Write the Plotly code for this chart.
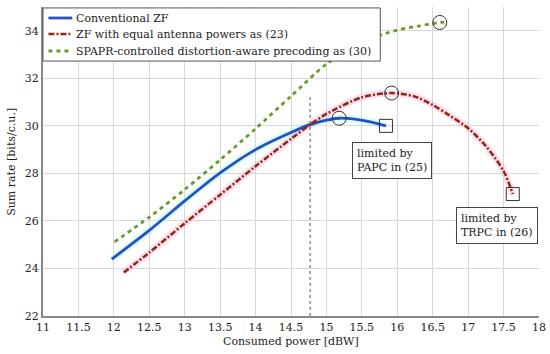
import plotly.graph_objects as go

# Data
zf_x = [11.97, 12.5, 13.0, 13.5, 14.0, 14.5, 14.77, 15.0, 15.18, 15.4, 15.6, 15.84]
zf_y = [24.39, 25.6, 26.84, 28.02, 29.0, 29.72, 30.05, 30.24, 30.32, 30.28, 30.18, 30.0]

eq_x = [12.14, 12.5, 13.0, 13.5, 14.0, 14.5, 14.77, 15.0, 15.5, 15.92, 16.23, 16.5, 16.73, 17.0, 17.25, 17.5, 17.63]
eq_y = [23.83, 24.67, 25.9, 27.1, 28.3, 29.45, 30.05, 30.5, 31.2, 31.38, 31.25, 30.88, 30.45, 29.9, 29.15, 28.1, 27.13]

sp_x = [12.01, 12.5, 13.0, 13.5, 14.0, 14.5, 15.0, 15.5, 16.0, 16.3, 16.5, 16.6, 16.72]
sp_y = [25.12, 26.16, 27.32, 28.57, 29.88, 31.25, 32.6, 33.52, 34.03, 34.2, 34.3, 34.35, 34.38]

peak_x = [15.18, 15.92, 16.6]
peak_y = [30.32, 31.38, 34.35]
end_x = [15.84, 17.63]
end_y = [30.0, 27.13]

ref_x = 14.77
ref_top = 31.35

x_ticks = [11, 11.5, 12, 12.5, 13, 13.5, 14, 14.5, 15, 15.5, 16, 16.5, 17, 17.5, 18]
y_ticks = [22, 24, 26, 28, 30, 32, 34]

series_names = ["Conventional ZF",
                "ZF with equal antenna powers as (23)",
                "SPAPR-controlled distortion-aware precoding as (30)"]
series_colors = ["#2a4fbf", "#8b2a10", "#6b9a2c"]
series_dash = ["solid", "6px,2px,2px,2px", "4px,4px"]
series_width = [2.8, 2.5, 2.8]

FONT = "DejaVu Serif"

fig = go.Figure()

# halos
fig.add_trace(go.Scatter(x=zf_x, y=zf_y, mode="lines", line=dict(color="rgba(140,255,240,0.35)", width=7, shape="spline", smoothing=0.8),
                         showlegend=False, hoverinfo="skip"))
fig.add_trace(go.Scatter(x=eq_x, y=eq_y, mode="lines", line=dict(color="rgba(255,160,210,0.35)", width=7, shape="spline", smoothing=0.8),
                         showlegend=False, hoverinfo="skip"))

for (xs, ys), nm, c, d, w in zip([(zf_x, zf_y), (eq_x, eq_y), (sp_x, sp_y)],
                                 series_names, series_colors, series_dash, series_width):
    fig.add_trace(go.Scatter(x=xs, y=ys, mode="lines", name=nm, showlegend=False,
                             line=dict(color=c, width=w, dash=d, shape="spline", smoothing=0.8)))

fig.add_trace(go.Scatter(x=peak_x, y=peak_y, mode="markers", showlegend=False,
                         marker=dict(symbol="circle-open", size=14, color="#333333", line=dict(width=1))))
fig.add_trace(go.Scatter(x=end_x, y=end_y, mode="markers", showlegend=False,
                         marker=dict(symbol="square-open", size=13, color="#333333", line=dict(width=1))))

fig.add_shape(type="line", x0=ref_x, x1=ref_x, y0=22, y1=ref_top, xref="x", yref="y",
              line=dict(color="#555555", width=1, dash="dot"))

# legend (drawn as a boxed key in the top-left corner)
fig.add_shape(type="rect", xref="paper", yref="paper", x0=0.0, x1=0.68, y0=0.825, y1=0.997,
              fillcolor="white", line=dict(color="#555", width=1), layer="above")
row_y = [0.9644, 0.9126, 0.8576]
for ry, nm, c, d, w in zip(row_y, series_names, series_colors, series_dash, series_width):
    fig.add_shape(type="line", xref="paper", yref="paper", x0=0.011, x1=0.059, y0=ry, y1=ry,
                  line=dict(color=c, width=w, dash=d), layer="above")
    fig.add_annotation(x=0.063, y=ry, xref="paper", yref="paper", text=nm, showarrow=False,
                       xanchor="left", yanchor="middle", font=dict(family=FONT, size=11, color="#222"))

fig.add_annotation(x=15.92, y=28.55, xref="x", yref="y", text="limited by<br>PAPC in (25)",
                   showarrow=False, align="left", xanchor="center", yanchor="middle",
                   font=dict(family=FONT, size=11, color="#222"),
                   bordercolor="#444", borderwidth=1, borderpad=4, bgcolor="white")
fig.add_annotation(x=17.41, y=25.79, xref="x", yref="y", text="limited by<br>TRPC in (26)",
                   showarrow=False, align="left", xanchor="center", yanchor="middle",
                   font=dict(family=FONT, size=11, color="#222"),
                   bordercolor="#444", borderwidth=1, borderpad=4, bgcolor="white")

# axis titles
fig.add_annotation(x=0.5, y=-0.084, xref="paper", yref="paper", text="Consumed power [dBW]",
                   showarrow=False, xanchor="center", yanchor="middle",
                   font=dict(family=FONT, size=11, color="#222"))
fig.add_annotation(x=-0.064, y=0.5, xref="paper", yref="paper", text="Sum rate [bits/c.u.]",
                   showarrow=False, xanchor="center", yanchor="middle", textangle=-90,
                   font=dict(family=FONT, size=11, color="#222"))

fig.update_layout(
    width=550, height=354,
    margin=dict(l=43, r=11, t=7, b=38),
    paper_bgcolor="white", plot_bgcolor="white",
    font=dict(family=FONT, size=11, color="#222"),
    showlegend=False,
)
fig.update_xaxes(range=[11, 18], tickvals=x_ticks, ticktext=[f"{v:g}" for v in x_ticks],
                 showgrid=True, gridcolor="#d8d8d8", gridwidth=1,
                 showline=True, linecolor="#888", linewidth=2, zeroline=False, ticks="",
                 tickfont=dict(family=FONT, size=11), automargin=False)
fig.update_yaxes(range=[22, 35], tickvals=y_ticks,
                 showgrid=True, gridcolor="#d8d8d8", gridwidth=1,
                 showline=True, linecolor="#888", linewidth=2, zeroline=False, ticks="",
                 tickfont=dict(family=FONT, size=11), automargin=False)

fig.write_html("out.html", config={"displayModeBar": False},
               post_script="document.body.style.margin='0px';")
